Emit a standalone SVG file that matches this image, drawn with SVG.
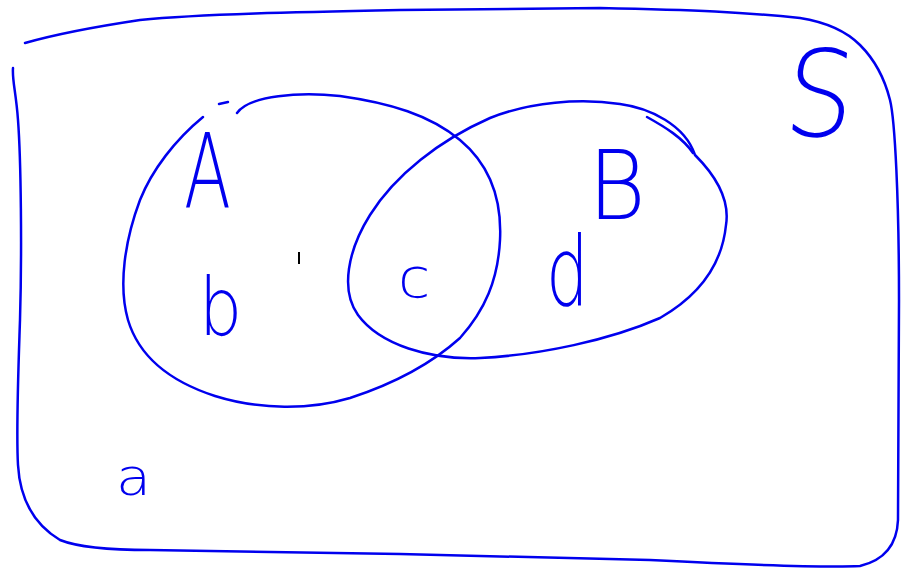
<svg xmlns="http://www.w3.org/2000/svg" width="901" height="568" viewBox="0 0 901 568">
<style>
.ink{fill:none;stroke:#0000ee;stroke-width:2.5;stroke-linecap:round;stroke-linejoin:round}
.lbl{fill:#0000ee;font-family:"DejaVu Sans","Liberation Sans",sans-serif;font-weight:200}
</style>
<rect width="901" height="568" fill="#fff"/>
<g id="S">
<path class="ink" d="M13,68 C12,80 16,92 18,120 C21,160 22,250 20,320 C18,380 16,430 18,465 C20,500 35,525 60,540 C80,548 110,550 150,550 L400,554 L650,560 C750,565 820,568 860,566 C885,560 897,545 898,520 L899,300 C899,200 895,120 890,100 C885,80 875,60 860,45 C845,30 825,22 800,18 C740,12 700,10 600,8 L400,10 C300,12 200,14 140,20 C100,26 60,33 25,43"/>
<text class="lbl" font-size="120" transform="translate(782,136) scale(0.9,1) skewX(-6)">S</text>
</g>
<g id="A">
<path class="ink" d="M237,113 C250,95 300,92 340,96 C390,103 430,115 460,140 C490,165 502,200 500,240 C498,280 485,310 460,338 C430,365 390,385 350,398 C310,410 260,410 215,396 C175,383 140,360 128,320 C118,285 125,240 140,200 C152,170 175,140 203,117"/>
<path class="ink" d="M219,104 L228,102"/>
<text class="lbl" font-size="104" transform="translate(184,208) scale(0.66,1)">A</text>
</g>
<g id="B">
<path class="ink" d="M695,155 C715,175 730,200 726,225 C722,265 700,295 660,318 C610,340 540,355 480,358 C430,360 380,345 358,315 C340,290 348,250 370,215 C395,175 440,140 490,118 C530,102 580,98 620,104 C650,108 685,125 695,155"/>
<path class="ink" d="M647,117 C665,127 683,138 693,153"/>
<text class="lbl" font-size="96" transform="translate(588,219) scale(0.92,1)">B</text>
</g>
<g id="regions">
<text class="lbl" font-size="52" transform="translate(116,495) scale(1.1,1)">a</text>
<text class="lbl" font-size="80" transform="translate(199,335) scale(0.85,1)">b</text>
<text class="lbl" font-size="56" transform="translate(398,297) scale(1.05,1)">c</text>
<text class="lbl" font-size="96" transform="translate(546,305) scale(0.7,1)">d</text>
</g>
<g id="connectors">
<line x1="299" y1="252" x2="299" y2="264" stroke="#000" stroke-width="2"/>
</g>
</svg>
